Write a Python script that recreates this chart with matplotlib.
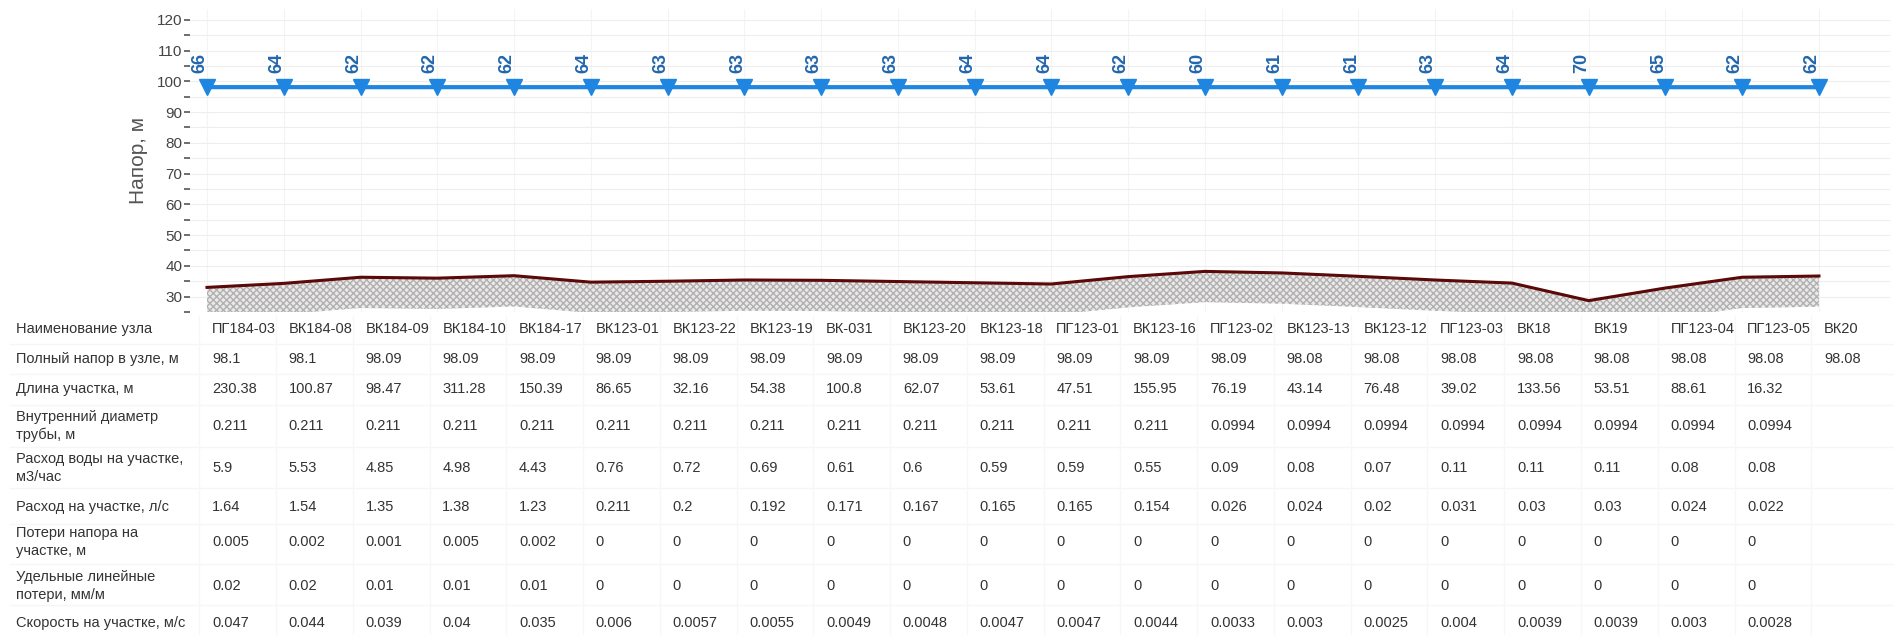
import matplotlib
matplotlib.use("Agg")
import matplotlib.pyplot as plt
import matplotlib.transforms as mtransforms
import numpy as np

plt.rcParams['font.family'] = ['Liberation Sans', 'DejaVu Sans']
plt.rcParams['hatch.linewidth'] = 1.0

# node names along the route
nodes = ['ПГ184-03', 'ВК184-08', 'ВК184-09', 'ВК184-10', 'ВК184-17', 'ВК123-01',
         'ВК123-22', 'ВК123-19', 'ВК-031', 'ВК123-20', 'ВК123-18', 'ПГ123-01',
         'ВК123-16', 'ПГ123-02', 'ВК123-13', 'ВК123-12', 'ПГ123-03', 'ВК18',
         'ВК19', 'ПГ123-04', 'ПГ123-05', 'ВК20']

# full head at node, m
head = [98.1, 98.1, 98.09, 98.09, 98.09, 98.09, 98.09, 98.09, 98.09, 98.09, 98.09,
        98.09, 98.09, 98.09, 98.08, 98.08, 98.08, 98.08, 98.08, 98.08, 98.08, 98.08]

# free head labels above the markers
free_head = [66, 64, 62, 62, 62, 64, 63, 63, 63, 63, 64, 64, 62, 60, 61, 61, 63, 64,
             70, 65, 62, 62]

# ground level read from the profile, m
ground = [33.0, 34.3, 36.3, 36.0, 36.8, 34.7, 35.0, 35.4, 35.3, 34.9, 34.5, 34.1,
          36.5, 38.2, 37.7, 36.6, 35.4, 34.4, 28.7, 32.8, 36.3, 36.7]

# section data (one fewer than nodes)
length = [230.38, 100.87, 98.47, 311.28, 150.39, 86.65, 32.16, 54.38, 100.8, 62.07,
          53.61, 47.51, 155.95, 76.19, 43.14, 76.48, 39.02, 133.56, 53.51, 88.61, 16.32]
diameter = [0.211] * 13 + [0.0994] * 8
flow_m3h = [5.9, 5.53, 4.85, 4.98, 4.43, 0.76, 0.72, 0.69, 0.61, 0.6, 0.59, 0.59,
            0.55, 0.09, 0.08, 0.07, 0.11, 0.11, 0.11, 0.08, 0.08]
flow_ls = [1.64, 1.54, 1.35, 1.38, 1.23, 0.211, 0.2, 0.192, 0.171, 0.167, 0.165,
           0.165, 0.154, 0.026, 0.024, 0.02, 0.031, 0.03, 0.03, 0.024, 0.022]
head_loss = [0.005, 0.002, 0.001, 0.005, 0.002] + [0] * 16
spec_loss = [0.02, 0.02, 0.01, 0.01, 0.01] + [0] * 16
velocity = [0.047, 0.044, 0.039, 0.04, 0.035, 0.006, 0.0057, 0.0055, 0.0049, 0.0048,
            0.0047, 0.0047, 0.0044, 0.0033, 0.003, 0.0025, 0.004, 0.0039, 0.0039,
            0.003, 0.0028]

row_labels = ['Наименование узла', 'Полный напор в узле, м', 'Длина участка, м',
              'Внутренний диаметр\nтрубы, м', 'Расход воды на участке,\nм3/час',
              'Расход на участке, л/с', 'Потери напора на\nучастке, м',
              'Удельные линейные\nпотери, мм/м', 'Скорость на участке, м/с']
rows = [nodes, head, length, diameter, flow_m3h, flow_ls, head_loss, spec_loss, velocity]

W, H = 1894, 635
fig = plt.figure(figsize=(W / 100, H / 100), dpi=100)
ax = fig.add_axes([190 / W, 1 - 312 / H, 1700 / W, (312 - 9) / H])

x = np.arange(len(nodes))
g = np.array(ground)

# ground profile with hatched body
ax.fill_between(x, g - 10, g, facecolor='#ebe8e8', edgecolor='#b0b0b0',
                hatch='xxxxx', linewidth=0, zorder=2)
ax.plot(x, g, color='#5a0808', lw=2.2, zorder=3)

# piezometric line
ax.plot(x, head, color='#1e86e0', lw=3, marker='v', ms=12, mfc='#1e86e0',
        mec='#1e86e0', zorder=4)
for i, v in enumerate(free_head):
    ax.annotate(str(v), (x[i], head[i]), xytext=(-5, 10), textcoords='offset points',
                rotation=90, ha='center', va='bottom', fontsize=13, fontweight='bold',
                color='#2266ad', zorder=5)

ax.set_xlim(-(207 - 190) / 76.76, (1890 - 207) / 76.76)
ax.set_ylim(25, 123.5)
ax.set_yticks(np.arange(30, 121, 10))
ax.set_yticks(np.arange(25, 121, 5), minor=True)
ax.set_xticks(x)
ax.tick_params(axis='x', length=0, labelbottom=False)
ax.tick_params(axis='y', which='both', direction='out', length=4, width=1.2,
               color='#555555', labelsize=11, labelcolor='#444444', pad=1.5)
ax.grid(True, which='both', axis='y', color='#eeeeee', lw=0.8)
ax.grid(True, which='major', axis='x', color='#f4f4f4', lw=0.8)
ax.set_axisbelow(True)
for s in ax.spines.values():
    s.set_visible(False)

fig.text(138 / W, 1 - 160 / H, 'Напор, м', rotation=90, ha='center', va='center',
         fontsize=15, color='#555555')

# table under the chart
row_y = [329, 359, 389, 426, 468, 507, 542, 586, 623]
seps = [344, 374, 405, 447, 488, 524, 564, 605]
for yy in seps:
    fig.add_artist(plt.Line2D([10 / W, 1], [1 - yy / H] * 2, color='#f6f6f6', lw=1,
                              transform=fig.transFigure))

blend = mtransforms.blended_transform_factory(ax.transData, fig.transFigure)
for i in x:
    fig.add_artist(plt.Line2D([i - 0.1, i - 0.1], [1 - 316 / H, 1 - 640 / H],
                              color='#f7f7f7', lw=1, transform=blend))
txt_t = mtransforms.offset_copy(blend, fig=fig, x=5, y=0, units='dots')

for label, yy in zip(row_labels, row_y):
    fig.text(16 / W, 1 - yy / H, label, ha='left', va='center', fontsize=10.5,
             color='#333333', linespacing=1.4)

for r, yy in zip(rows, row_y):
    for i, val in enumerate(r):
        ax.text(x[i], 1 - yy / H, str(val), transform=txt_t, ha='left', va='center',
                fontsize=10.5, color='#333333', clip_on=False)

fig.savefig('out.png', dpi=100)
